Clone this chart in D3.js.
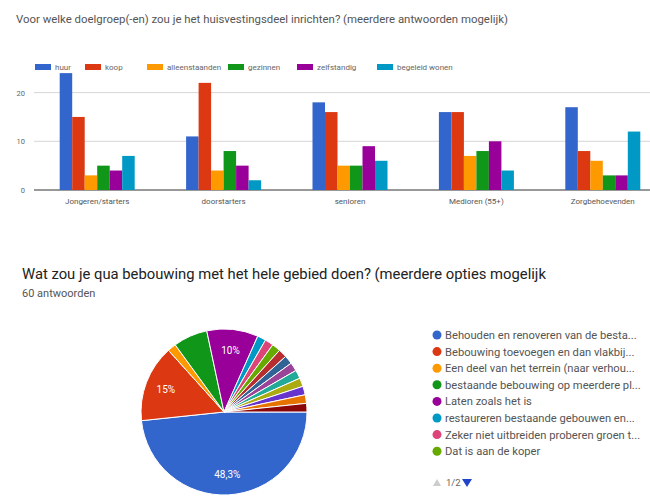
<!DOCTYPE html>
<html>
<head>
<meta charset="utf-8">
<script src="https://cdn.jsdelivr.net/npm/d3@7"></script>
<style>
  html, body { margin: 0; padding: 0; background: #fff; }
  svg { display: block; }
</style>
</head>
<body>
<svg id="chart" width="650" height="497"></svg>
<script>
// ---------- data ----------
const barTitle = "Voor welke doelgroep(-en) zou je het huisvestingsdeel inrichten? (meerdere antwoorden mogelijk)";
const categories = ["Jongeren/starters", "doorstarters", "senioren", "Medioren (55+)", "Zorgbehoevenden"];
const seriesNames = ["huur", "koop", "alleenstaanden", "gezinnen", "zelfstandig", "begeleid wonen"];
const huur = [24, 11, 18, 16, 17];
const koop = [15, 22, 16, 16, 8];
const alleenstaanden = [3, 4, 5, 7, 6];
const gezinnen = [5, 8, 5, 8, 3];
const zelfstandig = [4, 5, 9, 10, 3];
const begeleidWonen = [7, 2, 6, 4, 12];
const yTicks = [0, 10, 20];

const pieTitle = "Wat zou je qua bebouwing met het hele gebied doen? (meerdere opties mogelijk";
const pieSubtitle = "60 antwoorden";
const pieLabels = [
  "Behouden en renoveren van de besta...",
  "Bebouwing toevoegen en dan vlakbij...",
  "Een deel van het terrein (naar verhou...",
  "bestaande bebouwing op meerdere pl...",
  "Laten zoals het is",
  "restaureren bestaande gebouwen en...",
  "Zeker niet uitbreiden proberen groen t...",
  "Dat is aan de koper",
  "", "", "", "", "", "", "", ""
];
const pieValues = [29, 9, 1, 4, 6, 1, 1, 1, 1, 1, 1, 1, 1, 1, 1, 1];
const pieSliceText = ["48,3%", "15%", "", "", "10%", "", "", "", "", "", "", "", "", "", "", ""];
const pagerText = "1/2";

const palette = ["#3366cc", "#dc3912", "#ff9900", "#109618", "#990099", "#0099c6",
  "#dd4477", "#66aa00", "#b82e2e", "#316395", "#994499", "#22aa99",
  "#aaaa11", "#6633cc", "#e67300", "#8b0707"];

const FONT = "Roboto, 'Liberation Sans', sans-serif";

// ---------- bar chart ----------
const svg = d3.select("#chart");
const seriesValues = [huur, koop, alleenstaanden, gezinnen, zelfstandig, begeleidWonen];

svg.append("text")
  .attr("x", 16).attr("y", 23)
  .attr("font-family", FONT)
  .attr("font-size", 11.4)
  .attr("fill", "#555")
  .text(barTitle);

const bx = d3.scaleBand().domain(categories).range([34, 666]).paddingInner(0).paddingOuter(0);
const by = d3.scaleLinear().domain([0, 20]).range([190, 92.6]);
const sx = d3.scaleBand().domain(seriesNames).range([0, 75]);

const gBar = svg.append("g");
gBar.selectAll("line.grid").data(yTicks).enter().append("line")
  .attr("x1", 34).attr("x2", 650)
  .attr("y1", d => by(d)).attr("y2", d => by(d))
  .attr("stroke", d => d === 0 ? "#333" : "#ccc")
  .attr("stroke-width", d => d === 0 ? 1 : 0.8);

const yAxis = d3.axisLeft(by).tickValues(yTicks).tickSize(0).tickPadding(0);
gBar.append("g").attr("transform", "translate(25,0)").call(yAxis)
  .call(g => g.select(".domain").remove())
  .call(g => g.selectAll("text").attr("font-family", FONT)
    .attr("font-size", 7.5).attr("fill", "#666"));

const groups = gBar.selectAll("g.cat").data(categories).enter().append("g")
  .attr("transform", d => `translate(${bx(d) + bx.bandwidth() / 2 - 37.5},0)`);
groups.selectAll("rect").data((c, ci) => seriesNames.map((s, si) => ({ s, si, v: seriesValues[si][ci] })))
  .enter().append("rect")
  .attr("x", d => sx(d.s))
  .attr("width", sx.bandwidth())
  .attr("y", d => by(d.v))
  .attr("height", d => by(0) - by(d.v))
  .attr("fill", d => palette[d.si]);

const xAxis = d3.axisBottom(bx).tickSize(0).tickPadding(0);
gBar.append("g").attr("transform", "translate(0,198)").call(xAxis)
  .call(g => g.select(".domain").remove())
  .call(g => g.selectAll("text").attr("font-family", FONT)
    .attr("font-size", 8).attr("fill", "#555"));

const legX = [35, 85, 147, 228, 297, 377];
const leg = gBar.selectAll("g.leg").data(seriesNames).enter().append("g")
  .attr("transform", (d, i) => `translate(${legX[i]},64)`);
leg.append("rect").attr("width", 16).attr("height", 6).attr("fill", (d, i) => palette[i]);
leg.append("text").attr("x", 20).attr("y", 6)
  .attr("font-family", FONT)
  .attr("font-size", 8).attr("fill", "#666").text(d => d);

// ---------- pie ----------
svg.append("text")
  .attr("x", 22).attr("y", 279)
  .attr("font-family", FONT)
  .attr("font-size", 14.8).attr("fill", "#222")
  .text(pieTitle);
svg.append("text")
  .attr("x", 22).attr("y", 296.5)
  .attr("font-family", FONT)
  .attr("font-size", 11).attr("fill", "#555")
  .text(pieSubtitle);

const cx = 224, cy = 412, r = 83;
const pie = d3.pie().sort(null).value(d => d)
  .startAngle(Math.PI / 2).endAngle(Math.PI / 2 + 2 * Math.PI);
const arcs = pie(pieValues);
const arc = d3.arc().innerRadius(0).outerRadius(r);
const labelArc = d3.arc().innerRadius(r * 0.75).outerRadius(r * 0.75);
const gPie = svg.append("g").attr("transform", `translate(${cx},${cy})`);
gPie.selectAll("path").data(arcs).enter().append("path")
  .attr("d", arc)
  .attr("fill", (d, i) => palette[i])
  .attr("stroke", "#fff").attr("stroke-width", 1);
gPie.selectAll("text").data(arcs).enter().append("text")
  .attr("transform", d => `translate(${labelArc.centroid(d)})`)
  .attr("text-anchor", "middle").attr("dy", "0.35em")
  .attr("font-family", FONT)
  .attr("font-size", 10).attr("fill", "#fff")
  .text((d, i) => pieSliceText[i]);

const shown = pieLabels.slice(0, 8);
const pl = svg.append("g").selectAll("g").data(shown).enter().append("g")
  .attr("transform", (d, i) => `translate(437,${335 + i * 16.6})`);
pl.append("circle").attr("r", 4.5).attr("fill", (d, i) => palette[i]);
pl.append("text").attr("x", 8).attr("dy", "0.35em")
  .attr("font-family", FONT)
  .attr("font-size", 11.2).attr("fill", "#555").text(d => d);

const pg = svg.append("g").attr("transform", "translate(437,483)");
pg.append("path").attr("d", "M-4,3 L4,3 L0,-4 Z").attr("fill", "#ccc");
pg.append("text").attr("x", 9).attr("dy", "0.35em")
  .attr("font-family", FONT)
  .attr("font-size", 9.5).attr("fill", "#666").text(pagerText);
pg.append("path").attr("d", "M25,-4 L35,-4 L30,4 Z").attr("fill", "#2244cc");
</script>
</body>
</html>
